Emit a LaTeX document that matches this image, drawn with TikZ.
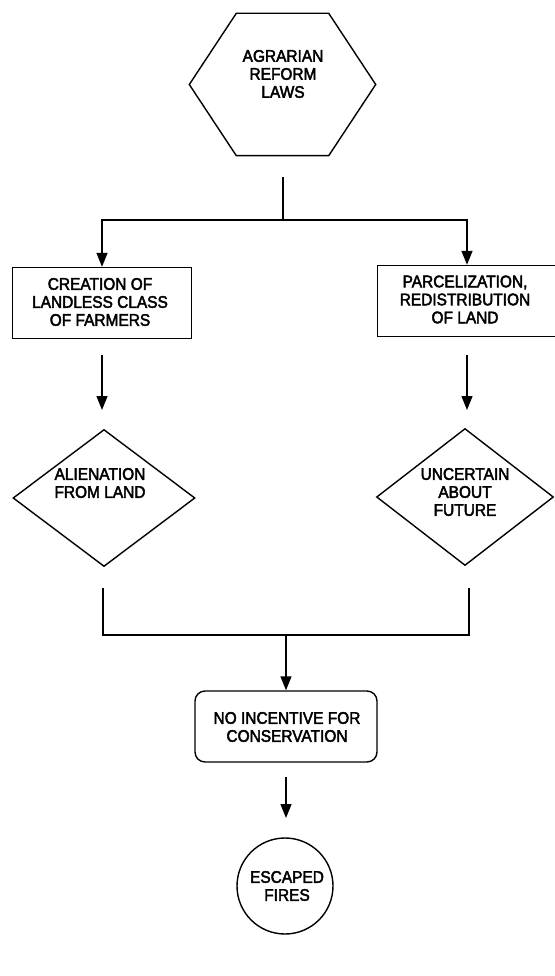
\documentclass[tikz,border=0pt]{standalone}
\usepackage{fontspec}
\newfontfamily\chartfont{Liberation Sans}[FakeBold=2.6, FakeStretch=0.92]
\usetikzlibrary{shapes.geometric,arrows.meta,calc}

\begin{document}
\begin{tikzpicture}[x=1pt,y=-1pt,
  line width=1.4pt,
  txt/.style={font=\chartfont\fontsize{16.8}{18}\selectfont, align=center, inner sep=0pt},
  flowbox/.style={draw, minimum width=179pt, minimum height=71pt, inner sep=0pt},
  roundbox/.style={draw, rounded corners=10pt, minimum width=182pt, minimum height=71pt, inner sep=0pt},
  decision/.style={draw, diamond, inner sep=0pt},
  terminal/.style={draw, circle, minimum size=96pt, inner sep=0pt},
  arr/.style={-{Triangle[length=14pt,width=11pt]}}
]
\useasboundingbox (0,0) rectangle (554,976);

% hexagon: starting law
\node[minimum width=185pt, minimum height=141pt, inner sep=0pt] (hex) at (282.5,84.5) {};
\draw ($(hex.north west)+(47,0)$) -- ($(hex.north east)+(-47,0)$) -- (hex.east)
  -- ($(hex.south east)+(-47,0)$) -- ($(hex.south west)+(47,0)$) -- (hex.west) -- cycle;
\node[txt] (hextext) at (283,74) {AGRARIAN\\REFORM\\LAWS};

% first-level boxes
\node[flowbox] (cre) at (102,303) {};
\node[txt] (cretext) at (100,302) {CREATION OF\\LANDLESS CLASS\\OF FARMERS};
\node[flowbox] (par) at (467,301) {};
\node[txt] (partext) at (465,299.5) {PARCELIZATION,\\REDISTRIBUTION\\OF LAND};

% decisions
\node[decision, minimum width=182pt, minimum height=137pt] (ali) at (104,498) {};
\node[txt] (alitext) at (100,483) {ALIENATION\\FROM LAND};
\node[decision, minimum width=177pt, minimum height=137pt] (unc) at (465,497) {};
\node[txt] (unctext) at (465,492) {UNCERTAIN\\ABOUT\\FUTURE};

% outcome
\node[roundbox] (noinc) at (286,726.5) {};
\node[txt] (noinctext) at (287,727) {NO INCENTIVE FOR\\CONSERVATION};
\node[terminal] (fires) at (285,886) {};
\node[txt] (firestext) at (287,886) {ESCAPED\\FIRES};

% connectors
\coordinate (split0) at (283,177);
\coordinate (split) at (283,220);
\draw (split0) -- (split);
\draw[arr] (split) -| (cre.north);
\draw[arr] (split) -| (par.north);

\coordinate (creA) at (102,355);
\coordinate (creB) at (102,410);
\draw[arr] (creA) -- (creB);
\coordinate (parA) at (467,355);
\coordinate (parB) at (467,410);
\draw[arr] (parA) -- (parB);

\coordinate (aliA) at (103,588);
\coordinate (uncA) at (469,588);
\coordinate (join) at (286,635);
\draw (aliA) |- (join) -| (uncA);
\draw[arr] (join) -- (noinc.north);

\coordinate (noincA) at (286,777);
\coordinate (noincB) at (286,818);
\draw[arr] (noincA) -- (noincB);
\end{tikzpicture}
\end{document}
